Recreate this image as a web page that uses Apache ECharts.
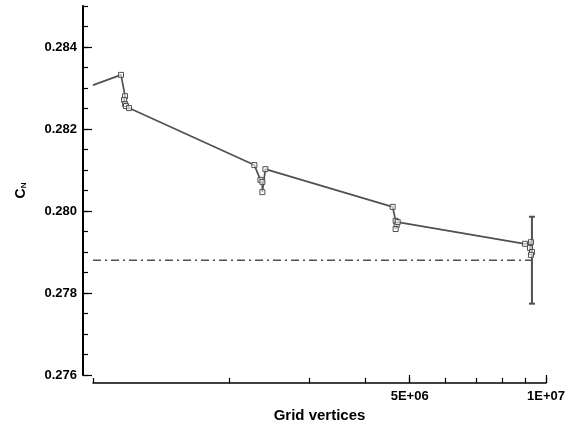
<!DOCTYPE html>
<html>
<head>
<meta charset="utf-8">
<style>
  html, body { margin: 0; padding: 0; background: #fff; }
  #chart { width: 570px; height: 425px; }
</style>
<script src="https://cdn.jsdelivr.net/npm/echarts@6/dist/echarts.min.js"></script>
</head>
<body>
<div id="chart"></div>
<script>
// Normal-force coefficient against mesh size (grid convergence study)
const gridVertices = [1.00e6, 1.153e6, 1.177e6, 1.171e6, 1.177e6, 1.183e6, 1.201e6,
                      2.271e6, 2.342e6, 2.365e6, 2.365e6, 2.402e6,
                      4.586e6, 4.657e6, 4.681e6, 4.657e6, 4.706e6,
                      8.985e6, 9.264e6, 9.217e6, 9.311e6, 9.264e6];
const cnValues = [0.28307, 0.28332, 0.28280, 0.28271, 0.28261, 0.28256, 0.28251,
                  0.28112, 0.28076, 0.28071, 0.28046, 0.28102,
                  0.28010, 0.27976, 0.27966, 0.27956, 0.27973,
                  0.27920, 0.27924, 0.27910, 0.27900, 0.27893];

// Reference value with its uncertainty band
const refValue = 0.2788;
const refHalfRange = 0.00106;
const refLineX = [1.0e6, 9.31e6];
const refErrorX = 9.31e6;

// Axis ticks
const xMinorTicks = [1e6, 2e6, 3e6, 4e6, 5e6, 6e6, 7e6, 8e6, 9e6, 1e7];
const xMajorTicks = [5e6, 1e7];
const xTickLabels = ['5E+06', '1E+07'];
const yMajorTicks = [0.276, 0.278, 0.280, 0.282, 0.284];
const yTickLabels = ['0.276', '0.278', '0.280', '0.282', '0.284'];

const FONT = 'Liberation Sans, Arial, Helvetica, sans-serif';
const AX = '#000';
const LINE = '#505050';

const chart = echarts.init(document.getElementById('chart'), null, { renderer: 'canvas' });

const xBase = {
  type: 'log', logBase: 10, min: 1e6, max: 1e7,
  position: 'bottom', offset: 8,
  splitLine: { show: false }, minorTick: { show: false }, minorSplitLine: { show: false }
};
const yBase = {
  type: 'value', min: 0.276, max: 0.285,
  position: 'left', offset: 10,
  splitLine: { show: false }
};

const mainData = gridVertices.map((x, i) => {
  const item = { value: [x, cnValues[i]] };
  if (i === 0) item.symbol = 'none';
  return item;
});

chart.setOption({
  animation: false,
  backgroundColor: '#fff',
  grid: { left: 93, right: 24, top: 6, bottom: 50, containLabel: false, outerBoundsMode: 'none' },
  xAxis: [
    Object.assign({}, xBase, {
      axisLine: { show: true, lineStyle: { color: AX, width: 1.5 } },
      axisTick: { show: true, inside: true, length: 5, customValues: xMinorTicks, lineStyle: { color: AX, width: 1.2 } },
      axisLabel: { show: false }
    }),
    Object.assign({}, xBase, {
      name: 'Grid vertices', nameLocation: 'middle', nameGap: 24,
      nameTextStyle: { fontFamily: FONT, fontWeight: 'bold', fontSize: 15, color: AX },
      axisLine: { show: false },
      axisTick: { show: true, inside: true, length: 8, customValues: xMajorTicks, lineStyle: { color: AX, width: 1.2 } },
      axisLabel: {
        show: true, customValues: xMajorTicks, margin: 7,
        fontFamily: FONT, fontWeight: 'bold', fontSize: 13, color: AX,
        formatter: v => {
          const k = xMajorTicks.findIndex(t => Math.abs(t - v) / t < 1e-6);
          return k >= 0 ? xTickLabels[k] : '';
        }
      }
    })
  ],
  yAxis: [
    Object.assign({}, yBase, {
      interval: 0.0005,
      axisLine: { show: true, lineStyle: { color: AX, width: 2 } },
      axisTick: { show: true, inside: true, length: 5, lineStyle: { color: AX, width: 1.2 } },
      axisLabel: { show: false }
    }),
    Object.assign({}, yBase, {
      name: 'C{sub|N}', nameLocation: 'middle', nameGap: 55, nameRotate: 90,
      nameTextStyle: {
        fontFamily: FONT, fontWeight: 'bold', fontSize: 14, color: AX,
        rich: { sub: { fontFamily: FONT, fontWeight: 'bold', fontSize: 8, color: AX, verticalAlign: 'bottom', padding: [4, 0, 0, 0] } }
      },
      axisLine: { show: false },
      axisTick: { show: true, inside: true, length: 9, customValues: yMajorTicks, lineStyle: { color: AX, width: 1.2 } },
      axisLabel: {
        show: true, customValues: yMajorTicks, margin: 6,
        fontFamily: FONT, fontWeight: 'bold', fontSize: 13, color: AX,
        formatter: v => {
          const k = yMajorTicks.findIndex(t => Math.abs(t - v) < 1e-7);
          return k >= 0 ? yTickLabels[k] : '';
        }
      }
    })
  ],
  series: [
    {
      type: 'line', xAxisIndex: 0, yAxisIndex: 0,
      data: [[refLineX[0], refValue], [refLineX[1], refValue]],
      symbol: 'none',
      lineStyle: { color: LINE, width: 1.5, type: [8, 4, 2, 4] },
      z: 2
    },
    {
      type: 'custom', xAxisIndex: 0, yAxisIndex: 0,
      data: [[refErrorX, refValue - refHalfRange, refValue + refHalfRange]],
      encode: { x: 0, y: [1, 2] },
      renderItem: (params, api) => {
        const x = api.value(0);
        const lo = api.coord([x, api.value(1)]);
        const hi = api.coord([x, api.value(2)]);
        const st = { stroke: LINE, lineWidth: 2 };
        const cap = 3;
        return {
          type: 'group',
          children: [
            { type: 'line', shape: { x1: lo[0], y1: lo[1], x2: hi[0], y2: hi[1] }, style: st },
            { type: 'line', shape: { x1: lo[0] - cap, y1: lo[1], x2: lo[0] + cap, y2: lo[1] }, style: st },
            { type: 'line', shape: { x1: hi[0] - cap, y1: hi[1], x2: hi[0] + cap, y2: hi[1] }, style: st }
          ]
        };
      },
      z: 3
    },
    {
      type: 'line', xAxisIndex: 0, yAxisIndex: 0,
      data: mainData,
      symbol: 'rect', symbolSize: 5, showAllSymbol: true,
      lineStyle: { color: LINE, width: 1.7 },
      itemStyle: { color: 'rgba(255,255,255,0.6)', borderColor: LINE, borderWidth: 1 },
      z: 4
    }
  ]
});
</script>
</body>
</html>
